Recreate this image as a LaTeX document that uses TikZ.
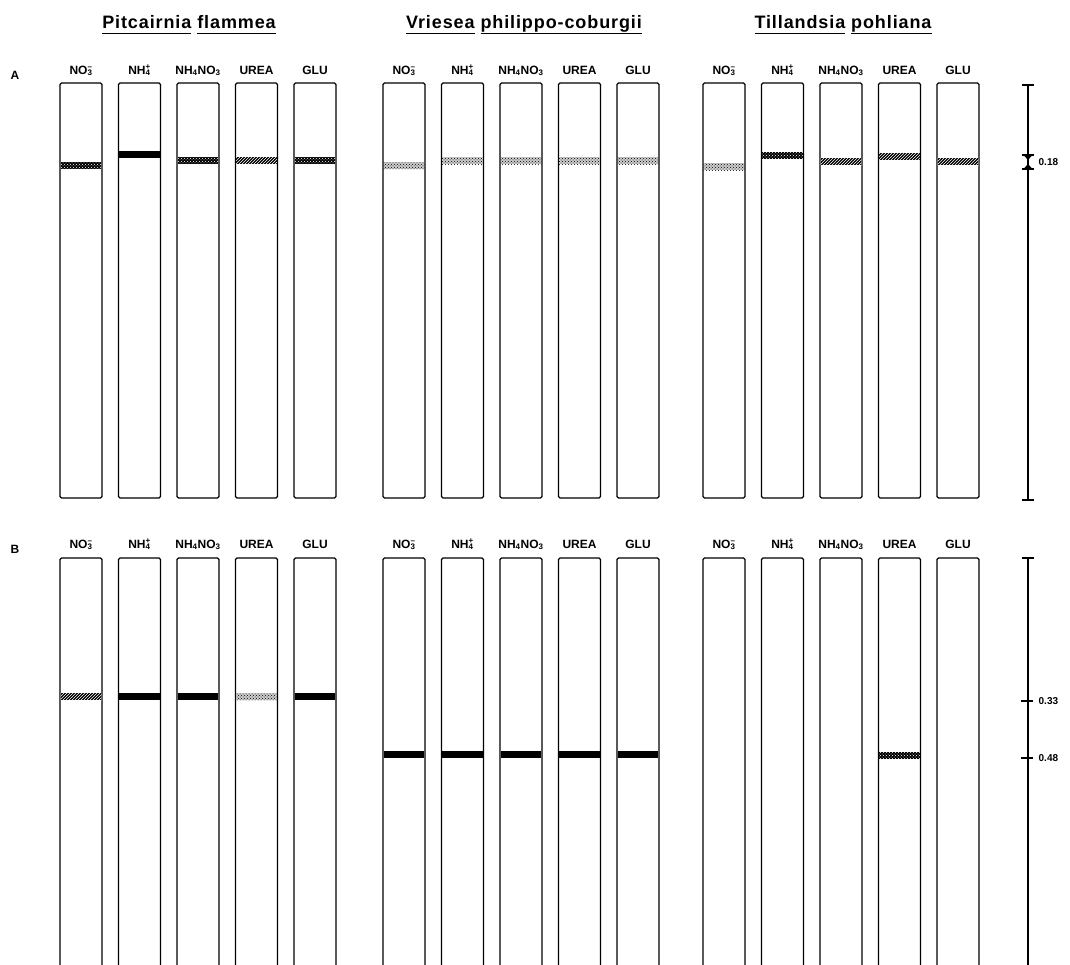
\documentclass[tikz,border=0pt]{standalone}
\usepackage{fontspec}
\setmainfont{Liberation Sans}
\newfontfamily\titlefont[LetterSpace=5]{Liberation Sans}
\usetikzlibrary{patterns}
\newcommand\ionlbl[3]{#1\rlap{\textsubscript{#2}}\textsuperscript{#3}}
\newcommand\wordline[1]{\underline{#1\vphantom{g}}}

\begin{document}
\begin{tikzpicture}[x=1pt,y=-1pt,line width=1.3pt,
  lane/.style={draw,line width=1.3pt,rounded corners=1.5pt},
  lbl/.style={font=\fontsize{12}{14}\selectfont\bfseries,anchor=base,inner sep=0pt},
  ttl/.style={font=\titlefont\fontsize{18}{20}\selectfont\bfseries,anchor=base,inner sep=0pt},
  scl/.style={font=\fontsize{10}{12}\selectfont\bfseries,anchor=west,inner sep=1pt},
  solidband/.style={fill=black},
  dotband/.style={fill=black,postaction={pattern=crosshatch dots,pattern color=white}},
  hatchband/.style={fill=black,postaction={pattern=north east lines,pattern color=white}},
  lightband/.style={fill=black!20,postaction={pattern=crosshatch dots,pattern color=black}}]
  \useasboundingbox (0,0) rectangle (1070,964);

  % species titles
  \node[ttl] (tP) at (189,28) {\wordline{Pitcairnia} \wordline{flammea}};
  \node[ttl] (tV) at (524,28) {\wordline{Vriesea} \wordline{philippo-coburgii}};
  \node[ttl] (tT) at (843,28) {\wordline{Tillandsia} \wordline{pohliana}};

  \node[font=\fontsize{12}{14}\selectfont\bfseries] (pA) at (15,75) {A};
  \node[font=\fontsize{12}{14}\selectfont\bfseries] (pB) at (15,549) {B};

  % lanes and their labels
  \foreach \g in {60,383,703} {
    \foreach \i/\lab in {0/{\ionlbl{NO}{3}{–}},1/{\ionlbl{NH}{4}{+}},2/{NH\textsubscript{4}NO\textsubscript{3}},3/UREA,4/GLU} {
      \node[lbl] (la-\g-\i) at (\g+\i*58.5+21,74) {\lab};
      \node[lbl] (lb-\g-\i) at (\g+\i*58.5+21,548) {\lab};
      \draw[lane] (\g+\i*58.5,83) rectangle ++(42,415);
      \draw[lane] (\g+\i*58.5,966) |- (\g+\i*58.5+42,558) -- (\g+\i*58.5+42,966);
    }
  }

  % bands, panel A
  \foreach \g/\i/\yb/\st in {60/0/162/dotband,60/1/151/solidband,60/2/157/dotband,60/3/157/hatchband,60/4/157/dotband,
      383/0/162/lightband,383/1/157/lightband,383/2/157/lightband,383/3/157/lightband,383/4/157/lightband,
      703/0/163/lightband,703/1/152/dotband,703/2/158/hatchband,703/3/153/hatchband,703/4/158/hatchband}
    \path[\st] (\g+\i*58.5+.6,\yb) rectangle ++(40.8,7);

  % bands, panel B
  \foreach \g/\i/\yb/\st in {60/0/693/hatchband,60/1/693/solidband,60/2/693/solidband,60/3/693/lightband,60/4/693/solidband,
      383/0/751/solidband,383/1/751/solidband,383/2/751/solidband,383/3/751/solidband,383/4/751/solidband,
      703/3/752/dotband}
    \path[\st] (\g+\i*58.5+.6,\yb) rectangle ++(40.8,7);

  % Rf scales
  \draw (1028,85) -- (1028,500);
  \draw (1022,85) -- (1034,85);
  \draw (1022,500) -- (1034,500);
  \draw (1022,155) -- (1034,155);
  \fill (1023.5,155) -- (1032.5,155) -- (1028,160) -- cycle;
  \draw (1022,169) -- (1034,169);
  \fill (1023.5,169) -- (1032.5,169) -- (1028,164) -- cycle;
  \node[scl] (r18) at (1037,162) {0.18};

  \draw (1028,558) -- (1028,966);
  \draw (1022,558) -- (1034,558);
  \draw (1021,701) -- (1033,701);
  \draw (1021,758) -- (1033,758);
  \node[scl] (r33) at (1037,701) {0.33};
  \node[scl] (r48) at (1037,758) {0.48};
\end{tikzpicture}
\end{document}
